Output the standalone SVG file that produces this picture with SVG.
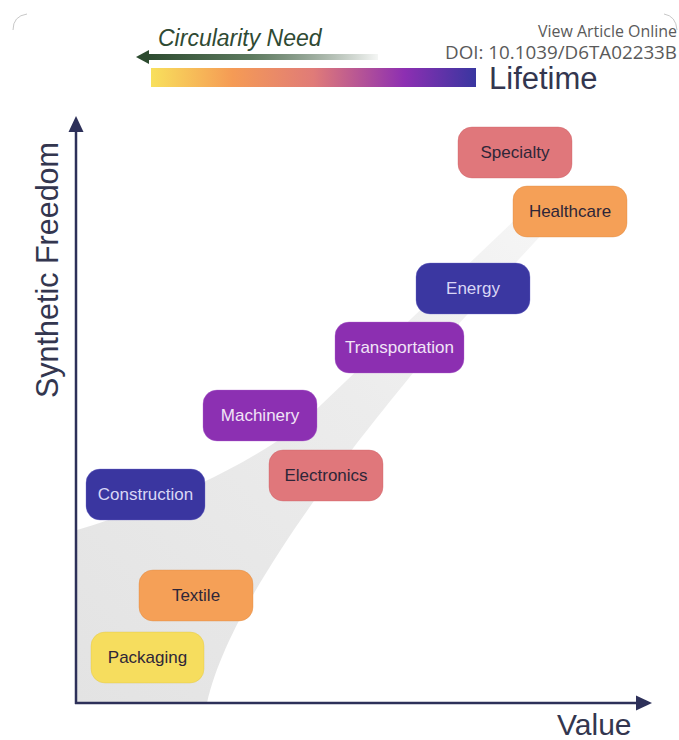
<svg xmlns="http://www.w3.org/2000/svg" width="679" height="740" viewBox="0 0 679 740">
  <defs>
    <linearGradient id="lifetimeGrad" x1="0" y1="0" x2="1" y2="0">
      <stop offset="0" stop-color="#f8e05c"/>
      <stop offset="0.25" stop-color="#f59b55"/>
      <stop offset="0.5" stop-color="#e07b78"/>
      <stop offset="0.78" stop-color="#8d2fb2"/>
      <stop offset="1" stop-color="#3936a0"/>
    </linearGradient>
    <linearGradient id="needGrad" x1="0" y1="0" x2="1" y2="0">
      <stop offset="0" stop-color="#2c4a2f"/>
      <stop offset="0.45" stop-color="#5d7a5f"/>
      <stop offset="1" stop-color="#2c4a2f" stop-opacity="0.05"/>
    </linearGradient>
    <linearGradient id="bandGrad" x1="0" y1="1" x2="1" y2="0">
      <stop offset="0" stop-color="#e3e3e3"/>
      <stop offset="0.6" stop-color="#ececec"/>
      <stop offset="1" stop-color="#f6f6f6"/>
    </linearGradient>
  </defs>
  <style>
    .lbl { font-family: "Liberation Sans", Arial, sans-serif; font-size: 17px; text-anchor: middle; dominant-baseline: central; }
    .dark { fill: #2e2638; }
    .light { fill: #d9d6f5; }
    .pale { fill: #f1e4f7; }
    .box { stroke-width: 1; stroke-opacity: 0.35; }
    .axis { stroke: #2d3059; stroke-width: 2.5; fill: none; }
    .head { fill: #2d3059; }
    .title { font-family: "Liberation Sans", Arial, sans-serif; fill: #33364f; }
    .meta { font-family: "Open Sans", "Liberation Sans", sans-serif; fill: #5a5a5a; text-anchor: end; }
  </style>

  <rect width="679" height="740" fill="#ffffff"/>

  <!-- page frame corners -->
  <path d="M 13,30 Q 13,16 27,14" fill="none" stroke="#c8c8c8" stroke-width="1"/>
  <path d="M 664,14 Q 676,16 677,30" fill="none" stroke="#c8c8c8" stroke-width="1"/>

  <!-- header metadata -->
  <text class="meta" x="677" y="37" font-size="16" textLength="139" lengthAdjust="spacingAndGlyphs">View Article Online</text>
  <text class="meta" x="677" y="59" font-size="18" textLength="232" lengthAdjust="spacingAndGlyphs">DOI: 10.1039/D6TA02233B</text>

  <!-- circularity arrow -->
  <text x="158" y="46" font-family="Liberation Sans, Arial, sans-serif" font-size="23" font-style="italic" fill="#2f4a33">Circularity Need</text>
  <rect x="146" y="54" width="232" height="6" fill="url(#needGrad)"/>
  <polygon points="136,57 149,50 149,64" fill="#2c4a2f"/>

  <!-- lifetime scale -->
  <rect x="151" y="68" width="325" height="19" fill="url(#lifetimeGrad)"/>
  <text class="title" x="489" y="89" font-size="31">Lifetime</text>

  <!-- shaded trend band -->
  <path d="M 77,530 C 160,505 240,470 300,425 L 413,317 L 520,215 L 560,215 L 413,373 C 350,450 230,600 207,703 L 77,703 Z" fill="url(#bandGrad)"/>

  <!-- axes -->
  <g id="connectors">
    <line class="axis" x1="76" y1="704" x2="76" y2="128"/>
    <polygon class="head" points="76,116 68.5,132 83.5,132"/>
    <line class="axis" x1="75" y1="703" x2="640" y2="703"/>
    <polygon class="head" points="652,703 636,695.5 636,710.5"/>
  </g>

  <text class="title" transform="translate(58,270) rotate(-90)" font-size="30.5" text-anchor="middle">Synthetic Freedom</text>
  <text class="title" x="557" y="735" font-size="30">Value</text>

  <!-- application nodes -->
  <g id="specialty">
    <rect class="box" x="458" y="127" width="114" height="51" rx="14" fill="#e0777b" stroke="#c85c62"/>
    <text class="lbl dark" x="515" y="152.5">Specialty</text>
  </g>
  <g id="healthcare">
    <rect class="box" x="513" y="186" width="114" height="51" rx="14" fill="#f5a057" stroke="#d9833a"/>
    <text class="lbl dark" x="570" y="211.5">Healthcare</text>
  </g>
  <g id="energy">
    <rect class="box" x="416" y="263" width="114" height="51" rx="14" fill="#3b37a1" stroke="#6e6acb"/>
    <text class="lbl light" x="473" y="288.5">Energy</text>
  </g>
  <g id="transportation">
    <rect class="box" x="335" y="322" width="129" height="51" rx="14" fill="#8c2fb1" stroke="#b36ad0"/>
    <text class="lbl pale" x="399.5" y="347.5">Transportation</text>
  </g>
  <g id="machinery">
    <rect class="box" x="203" y="390" width="114" height="51" rx="14" fill="#8c30b2" stroke="#b36ad0"/>
    <text class="lbl pale" x="260" y="415.5">Machinery</text>
  </g>
  <g id="electronics">
    <rect class="box" x="269" y="450" width="114" height="51" rx="14" fill="#e0777b" stroke="#c85c62"/>
    <text class="lbl dark" x="326" y="475.5">Electronics</text>
  </g>
  <g id="construction">
    <rect class="box" x="86" y="469" width="119" height="51" rx="14" fill="#3a36a0" stroke="#6e6acb"/>
    <text class="lbl light" x="145.5" y="494.5">Construction</text>
  </g>
  <g id="textile">
    <rect class="box" x="139" y="570" width="114" height="51" rx="14" fill="#f5a057" stroke="#d9833a"/>
    <text class="lbl dark" x="196" y="595.5">Textile</text>
  </g>
  <g id="packaging">
    <rect class="box" x="91" y="632" width="113" height="51" rx="14" fill="#f6dd5e" stroke="#dcc040"/>
    <text class="lbl dark" x="147.5" y="657.5">Packaging</text>
  </g>
</svg>
